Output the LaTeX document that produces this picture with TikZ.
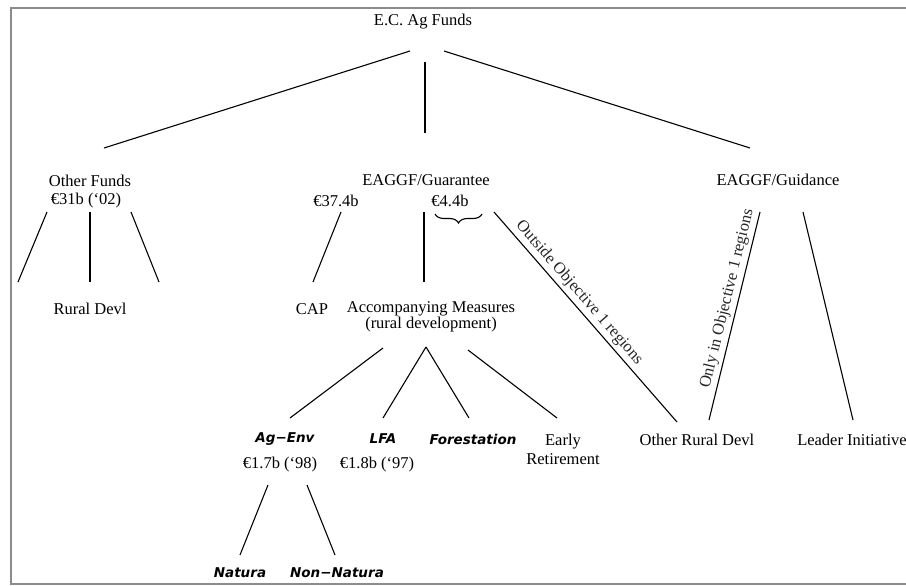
\documentclass[tikz,border=0pt]{standalone}
\usepackage{fontspec}
\setmainfont{Liberation Serif}
\newfontfamily\sansit{DejaVu Sans}[ItalicFont={DejaVu Sans Oblique},BoldFont={DejaVu Sans Bold},BoldItalicFont={DejaVu Sans Bold Oblique}]
\usetikzlibrary{decorations.pathreplacing}
\begin{document}
\begin{tikzpicture}[x=1pt,y=-1pt,
  lbl/.style={inner sep=0pt,font=\fontsize{16.5}{15}\selectfont,align=center},
  lbltwo/.style={inner sep=0pt,font=\fontsize{16.5}{19}\selectfont,align=center},
  slbl/.style={inner sep=0pt,font=\sansit\bfseries\itshape\fontsize{13.5}{16}\selectfont},
  conn/.style={line width=1.1pt,black},
  frame/.style={line width=1.4pt,black!45},
  rot/.style={sloped,inner sep=3pt,font=\fontsize{16.5}{19}\selectfont,text=black!85}]
\useasboundingbox (0,0) rectangle (906,586);
\draw[frame] (906,8) -- (11,8) -- (11,584) -- (906,584);

% text nodes
\node[lbl] (ec) at (423,22) {E.C. Ag Funds};
\node[lbl] (of) at (90,181) {Other Funds};
\node[lbl] (ofv) at (86,201) {€31b (‘02)};
\node[lbl] (gua) at (426,180) {EAGGF/Guarantee};
\node[lbl] (v374) at (336,201) {€37.4b};
\node[lbl] (v44) at (450,201) {€4.4b};
\node[lbl] (gui) at (778,180) {EAGGF/Guidance};
\node[lbl] (rd) at (90,309) {Rural Devl};
\node[lbl] (cap) at (312,309) {CAP};
\node[lbl] (acc) at (431,317) {Accompanying Measures\\(rural development)};
\node[lbl] (ord) at (697,440) {Other Rural Devl};
\node[lbl] (lead) at (852,440) {Leader Initiative};
\node[lbltwo] (ret) at (563,449) {Early\\Retirement};
\node[lbl] (v17) at (280,465) {€1.7b (‘98)};
\node[lbl] (v18) at (377,465) {€1.8b (‘97)};
\node[slbl] (ag) at (285,439) {Ag−Env};
\node[slbl] (lfa) at (383,439) {LFA};
\node[slbl] (fst) at (473,439) {Forestation};
\node[slbl] (nat) at (240,573) {Natura};
\node[slbl] (nn) at (337,573) {Non−Natura};

% connector end points
\coordinate (ecL) at (410,51);   \coordinate (ofT) at (104,148);
\coordinate (ecM) at (425,62);   \coordinate (guaT) at (425,133);
\coordinate (ecR) at (444,51);   \coordinate (guiT) at (750,148);
\coordinate (ofA) at (47,212);   \coordinate (ofA2) at (18,282);
\coordinate (ofB) at (90,212);   \coordinate (rdT) at (90,282);
\coordinate (ofC) at (131,212);  \coordinate (ofC2) at (159,282);
\coordinate (v374B) at (341,212); \coordinate (capT) at (313,282);
\coordinate (guaB) at (424,212); \coordinate (accT) at (424,282);
\coordinate (brE) at (494,212);  \coordinate (ordA) at (677,422);
\coordinate (ordB) at (709,420); \coordinate (guiA) at (760,212);
\coordinate (guiB) at (803,212); \coordinate (leadT) at (853,420);
\coordinate (accA) at (383,348); \coordinate (agT) at (290,418);
\coordinate (accB) at (426,347); \coordinate (lfaT) at (383,418);
\coordinate (fstT) at (469,418);
\coordinate (accC) at (468,350); \coordinate (retT) at (557,418);
\coordinate (v17A) at (268,485); \coordinate (natT) at (240,555);
\coordinate (v17B) at (307,485); \coordinate (nnT) at (335,555);
\coordinate (brL) at (435,214);  \coordinate (brR) at (482,214);

% connectors
\draw[conn] (ecL) -- (ofT);
\draw[conn] (ecM) -- (guaT);
\draw[conn] (ecR) -- (guiT);
\draw[conn] (ofA) -- (ofA2);
\draw[conn] (ofB) -- (rdT);
\draw[conn] (ofC) -- (ofC2);
\draw[conn] (v374B) -- (capT);
\draw[conn] (guaB) -- (accT);
\draw[conn] (brE) -- node[rot,above,pos=0.42] {Outside Objective 1 regions} (ordA);
\draw[conn] (ordB) -- node[rot,above,pos=0.57] {Only in Objective 1 regions} (guiA);
\draw[conn] (guiB) -- (leadT);
\draw[conn] (accA) -- (agT);
\draw[conn] (accB) -- (lfaT);
\draw[conn] (accB) -- (fstT);
\draw[conn] (accC) -- (retT);
\draw[conn] (v17A) -- (natT);
\draw[conn] (v17B) -- (nnT);
\draw[conn,decorate,decoration={brace,amplitude=9pt,mirror}] (brL) -- (brR);
\end{tikzpicture}
\end{document}
